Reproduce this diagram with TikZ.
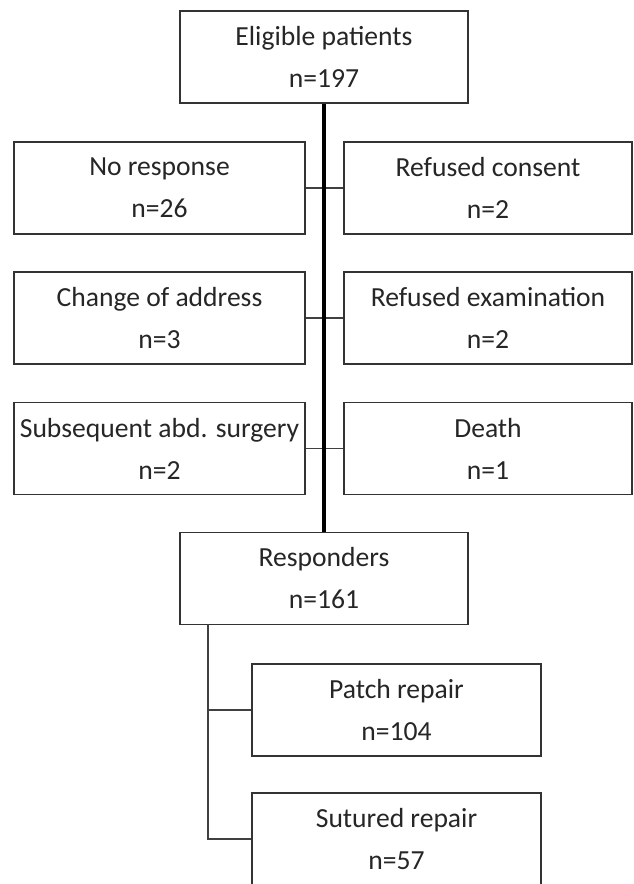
\documentclass[tikz,border=0pt]{standalone}
\usepackage{fontspec}
\setmainfont{Carlito}
\begin{document}
\begin{tikzpicture}[x=0.75pt,y=-0.75pt,
  box/.style={draw=black!80,line width=1.1pt,rectangle,inner sep=0pt,
    minimum height=69pt,align=center,text=black!85,
    font=\fontsize{20.7}{31.5}\selectfont},
  wide/.style={minimum width=216pt},
  conn/.style={draw=black!75,line width=1.1pt},
  trunk/.style={draw=black,line width=2.4pt}]
\useasboundingbox[fill=white] (0,0) rectangle (633,884);
\node[box,wide] (top) at (324,57) {Eligible patients\\n=197};
\node[box,minimum width=218pt] (nr) at (159.5,188) {No response\\n=26};
\node[box,wide] (rc) at (488,188) {Refused consent\\n=2};
\node[box,minimum width=218pt] (ca) at (159.5,318) {Change of address\\n=3};
\node[box,wide] (rex) at (488,318) {Refused examination\\n=2};
\node[box,minimum width=218pt] (sub) at (159.5,448.5) {Subsequent abd. surgery\\n=2};
\node[box,wide] (death) at (488,448.5) {Death\\n=1};
\node[box,wide] (resp) at (324,578.5) {Responders\\n=161};
\node[box,minimum width=217pt] (patch) at (396.5,710) {Patch repair\\n=104};
\node[box,minimum width=217pt] (sut) at (396.5,839) {Sutured repair\\n=57};
\coordinate (br) at (208,624);
\draw[conn] (nr.east) -- (rc.west);
\draw[conn] (ca.east) -- (rex.west);
\draw[conn] (sub.east) -- (death.west);
\draw[trunk] (top.south) -- (resp.north);
\draw[conn] (br) |- (sut.west);
\draw[conn] (br |- patch.west) -- (patch.west);
\end{tikzpicture}
\end{document}
